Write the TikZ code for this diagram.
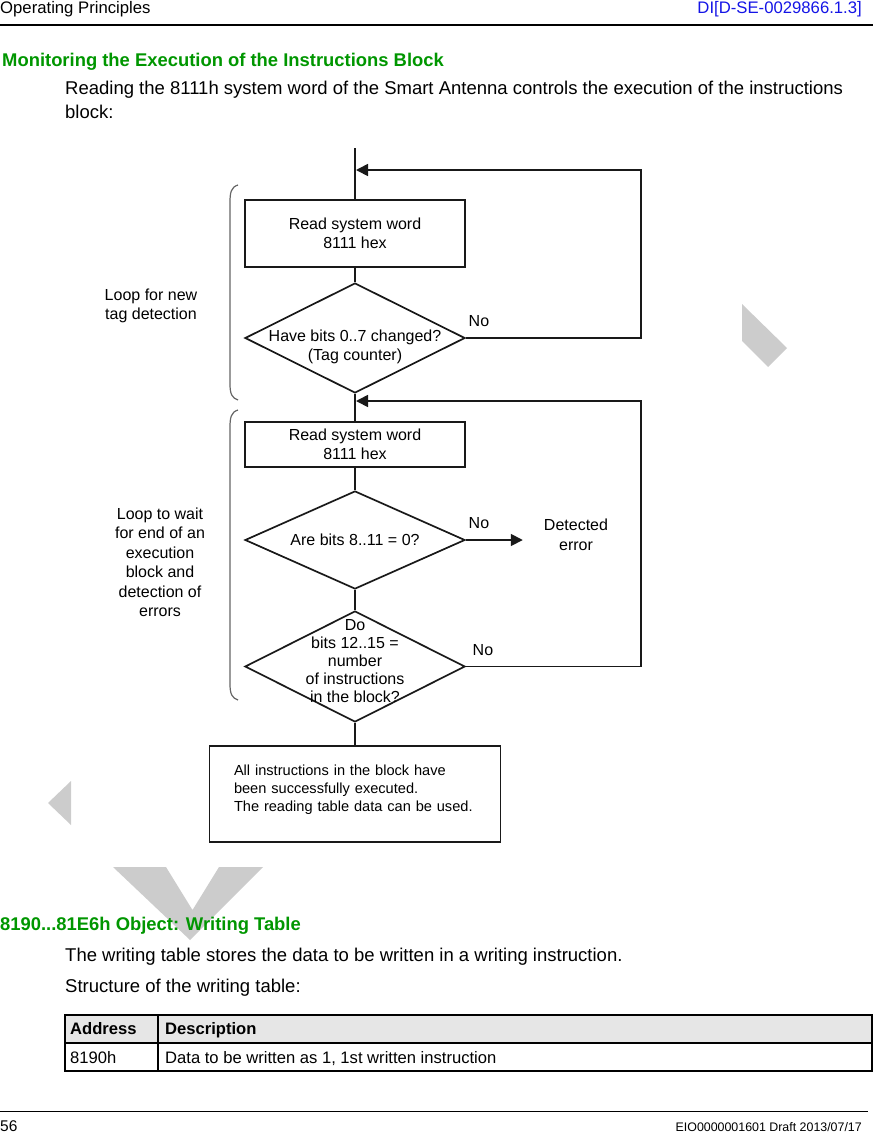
\documentclass[tikz,border=0pt]{standalone}
\usepackage{fontspec}
\setmainfont{Liberation Sans}
\usetikzlibrary{shapes.geometric,arrows.meta}
\definecolor{headgreen}{RGB}{0,150,0}
\definecolor{refblue}{RGB}{20,20,230}
\definecolor{wmgray}{RGB}{204,204,204}
\definecolor{tablegray}{RGB}{230,230,230}
\newcommand\chartfont{\fontsize{16}{19.5}\selectfont}
\newcommand\smallchart{\fontsize{16}{18}\selectfont}
\newcommand\notefont{\fontsize{14.6}{18}\selectfont}
\newcommand\bodyfont{\fontsize{18.5}{24}\selectfont}
\tikzset{
  flow/.style={line width=1.7pt, draw=black!90},
  stepbox/.style={rectangle, flow, minimum width=220, inner sep=0pt, align=center, font=\chartfont},
  decision/.style={diamond, flow, minimum width=220, inner sep=0pt},
  inside/.style={align=center, font=\chartfont},
  nolabel/.style={anchor=south west, font=\chartfont, inner sep=2pt},
  looplabel/.style={align=center, font=\chartfont},
  brace/.style={line width=1.2pt, draw=black!60},
  pagetext/.style={anchor=base west, inner sep=0pt, font=\bodyfont},
  heading/.style={anchor=base west, inner sep=0pt, text=headgreen, font=\bfseries\fontsize{18.4}{22}\selectfont},
  cell/.style={anchor=base west, inner sep=0pt, font=\fontsize{16.6}{20}\selectfont},
  >={Triangle[length=12pt,width=12pt]}
}
\begin{document}
\begin{tikzpicture}[x=1pt, y=-1pt]
\useasboundingbox (0,0) rectangle (873,1133);
% draft watermark
\fill[wmgray] (742,304) -- (742,341) -- (768,367) -- (787,348) -- cycle;
\fill[wmgray] (71,781) -- (48,803) -- (71,825) -- cycle;
\fill[wmgray] (113,867) -- (166,867) -- (192.5,910) -- (219,867) -- (263,867) -- (190,940) -- cycle;
% header and footer
\node[anchor=base west, inner sep=0pt, font=\fontsize{16.7}{20}\selectfont] (chapter) at (0,13) {Operating Principles};
\node[anchor=base east, inner sep=0pt, text=refblue, font=\fontsize{16.7}{20}\selectfont] (docref) at (862,13) {DI[D-SE-0029866.1.3]};
\draw[line width=1.3pt] (0,25) -- (873,25);
\draw[line width=1pt] (0,1111) -- (868,1111);
\node[anchor=base west, inner sep=0pt, font=\fontsize{15.5}{18}\selectfont] (pageno) at (0,1131.5) {56};
\node[anchor=base east, inner sep=0pt, font=\fontsize{12.4}{15}\selectfont] (draftno) at (862,1131.5) {EIO0000001601 Draft 2013/07/17};
% text above the chart
\node[heading] (title1) at (2,66.5) {Monitoring the Execution of the Instructions Block};
\node[pagetext] (intro1) at (65,94.5) {Reading the 8111h system word of the Smart Antenna controls the execution of the instructions};
\node[pagetext] (intro2) at (65,118.5) {block:};
% flow chart
\coordinate (start) at (355,148);
\node[stepbox, minimum height=67] (read1) at (355,233.5) {Read system word\\8111 hex};
\node[decision, minimum height=110, label={[inside, yshift=-9]center:{Have bits 0..7 changed?\\(Tag counter)}}] (changed) at (355,338) {};
\node[stepbox, minimum height=45] (read2) at (355,444.5) {Read system word\\8111 hex};
\node[decision, minimum height=98, label={[inside]center:{Are bits 8..11 = 0?}}] (zero) at (355,540) {};
\node[decision, minimum height=111, label={[inside, font=\smallchart, yshift=5]center:{Do\\bits 12..15 =\\number\\of instructions\\in the block?}}] (count) at (355,666.5) {};
\node[rectangle, flow, minimum width=291, minimum height=96, inner sep=0pt, label={[align=left, text width=250, font=\notefont, xshift=4, yshift=4]center:{All instructions in the block have\\been successfully executed.\\The reading table data can be used.}}] (done) at (355,794) {};
\node[looplabel, inner xsep=21pt] (error) at (576,535) {Detected\\error};
\node[looplabel] (loopnew) at (151,306) {Loop for new\\tag detection};
\node[looplabel] (loopwait) at (160,562.5) {Loop to wait\\for end of an\\execution\\block and\\detection of\\errors};
\coordinate (ret1) at (641,170);
\coordinate (join1) at (356,170);
\coordinate (ret2) at (641,401);
\coordinate (join2) at (356,401);
\draw[flow] (start) -- (read1);
\draw[flow] (read1) -- (changed);
\draw[flow] (changed) -- (read2);
\draw[flow] (read2) -- (zero);
\draw[flow] (zero) -- (count);
\draw[flow] (count) -- (done);
\draw[flow, ->] (changed.east) node[nolabel, yshift=8] {No} -| (ret1) -- (join1);
\draw[flow, ->] (zero.east) node[nolabel, yshift=9] {No} -- (zero.east -| error.west);
\draw[flow, ->] (count.east) node[nolabel, xshift=4, yshift=8] {No} -| (ret2) -- (join2);
% loop brackets
\draw[brace] (238,185) .. controls (231,187) and (230,193) .. (230,202) -- (230,384) .. controls (230,394) and (232,398) .. (238,400);
\draw[brace] (238,410) .. controls (231,412) and (230,418) .. (230,427) -- (230,684) .. controls (230,694) and (232,698) .. (238,700);
% text below the chart
\node[heading] (title2) at (0,930.5) {8190...81E6h Object: Writing Table};
\node[pagetext] (para1) at (65,961) {The writing table stores the data to be written in a writing instruction.};
\node[pagetext] (para2) at (65,992) {Structure of the writing table:};
% table
\fill[tablegray] (65,1015) rectangle (872,1043);
\draw[line width=1.2pt] (65,1015) rectangle (872,1071);
\draw[line width=1.2pt] (65,1043) -- (872,1043);
\draw[line width=1.2pt] (158,1015) -- (158,1071);
\node[cell, font=\bfseries\fontsize{16.6}{20}\selectfont] (addrhead) at (70,1034) {Address};
\node[cell, font=\bfseries\fontsize{16.6}{20}\selectfont] (deschead) at (165,1034) {Description};
\node[cell] (addr1) at (70,1063) {8190h};
\node[cell] (desc1) at (165,1063) {Data to be written as 1, 1st written instruction};
\end{tikzpicture}
\end{document}
